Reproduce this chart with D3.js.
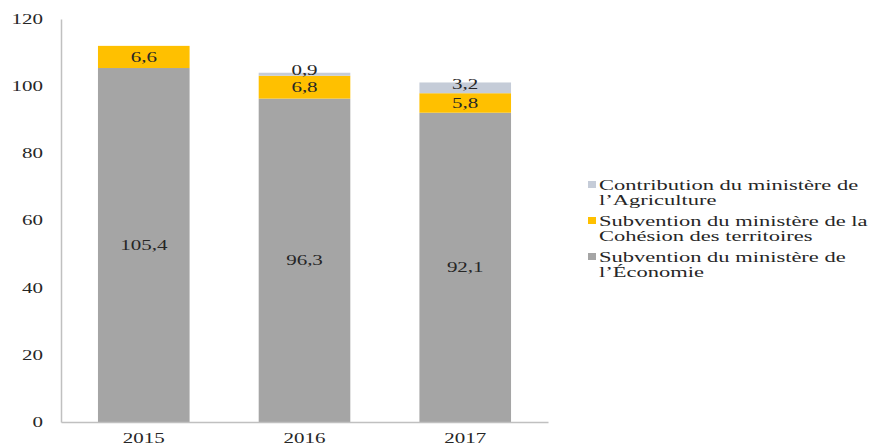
<!DOCTYPE html>
<html>
<head>
<meta charset="utf-8">
<script src="https://cdn.jsdelivr.net/npm/d3@7/dist/d3.min.js"></script>
<style>
  html, body { margin: 0; padding: 0; background: #fff; }
  svg { display: block; }
  text { font-family: "Liberation Serif", "Times New Roman", serif; fill: #262626; }
</style>
</head>
<body>
<svg id="chart" width="873" height="445"></svg>
<script>
// Years on the x axis
const years = ["2015", "2016", "2017"];
// Stacked series, bottom to top (M€)
const economie = [105.4, 96.3, 92.1];
const cohesion = [6.6, 6.8, 5.8];
const agriculture = [0, 0.9, 3.2];
// Y axis ticks
const yTicks = [0, 20, 40, 60, 80, 100, 120];
// Legend entries (top to bottom), each split on two lines
const legendLines = [
  ["Contribution du ministère de", "l\u2019Agriculture"],
  ["Subvention du ministère de la", "Cohésion des territoires"],
  ["Subvention du ministère de", "l\u2019Économie"]
];

const seriesKeys = ["economie", "cohesion", "agriculture"];
const colors = { economie: "#A5A5A5", cohesion: "#FFC000", agriculture: "#C5CCD8" };
const legendKeys = ["agriculture", "cohesion", "economie"];

const rows = years.map((y, i) => ({
  year: y, economie: economie[i], cohesion: cohesion[i], agriculture: agriculture[i]
}));

const svg = d3.select("#chart");
const SX = 1.5; // horizontal text stretch

const x = d3.scaleBand().domain(years).range([61, 548]).paddingInner(0.43).paddingOuter(0.23);
const y = d3.scaleLinear().domain([0, 120]).range([422, 19]);

const stack = d3.stack().keys(seriesKeys)(rows);

// Bars
const layers = svg.append("g").selectAll("g").data(stack).join("g")
  .attr("fill", d => colors[d.key]);
layers.selectAll("rect").data(d => d.filter(s => s[1] - s[0] > 0)).join("rect")
  .attr("x", d => x(d.data.year))
  .attr("width", x.bandwidth())
  .attr("y", d => y(d[1]))
  .attr("height", d => y(d[0]) - y(d[1]));

// Value labels centred in each segment (thin top segments nudged upward)
const fmt = v => d3.format(".1f")(v).replace(".", ",");
stack.forEach(layer => {
  const lift = layer.key === "agriculture" ? -4 : 0;
  layer.forEach(s => {
    const v = s[1] - s[0];
    if (v <= 0) return;
    svg.append("text")
      .attr("transform", `translate(${x(s.data.year) + x.bandwidth() / 2},${y((s[0] + s[1]) / 2) + lift}) scale(${SX},1)`)
      .attr("text-anchor", "middle")
      .attr("dy", "0.35em")
      .attr("font-size", 14)
      .text(fmt(v));
  });
});

// Y axis
const yAxis = svg.append("g").attr("transform", "translate(61,0)")
  .call(d3.axisLeft(y).tickValues(yTicks).tickSize(0).tickPadding(0));
yAxis.select(".domain").attr("stroke", "#C0C0C0").attr("stroke-width", 1.5);
yAxis.selectAll("text")
  .attr("font-size", 14)
  .attr("font-family", "Liberation Serif, serif")
  .attr("fill", "#262626")
  .attr("x", -18 / SX)
  .attr("transform", `scale(${SX},1)`);

// X axis
const xAxis = svg.append("g").attr("transform", "translate(0,422)")
  .call(d3.axisBottom(x).tickSize(0).tickPadding(0));
xAxis.select(".domain").attr("stroke", "#C0C0C0").attr("stroke-width", 1.5);
xAxis.selectAll("text")
  .attr("font-size", 14)
  .attr("font-family", "Liberation Serif, serif")
  .attr("fill", "#262626")
  .attr("dy", null)
  .attr("y", 21)
  .attr("x", 0)
  .attr("transform", `scale(${SX},1)`);

// Legend
const lg = svg.append("g");
legendKeys.forEach((k, i) => {
  const base = 190 + i * 36;
  lg.append("rect")
    .attr("x", 588).attr("y", base - 9).attr("width", 8).attr("height", 7)
    .attr("fill", colors[k]);
  legendLines[i].forEach((line, j) => {
    lg.append("text")
      .attr("transform", `translate(599,${base + j * 15}) scale(${SX},1)`)
      .attr("font-size", 15)
      .text(line);
  });
});
</script>
</body>
</html>
